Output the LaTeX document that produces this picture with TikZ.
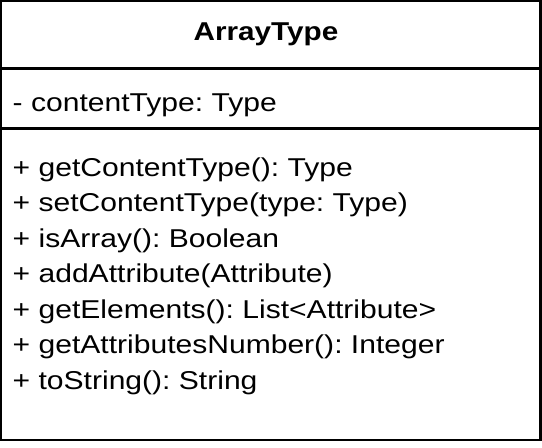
\documentclass[tikz,border=0pt]{standalone}
\usepackage{fontspec}
\setmainfont{Liberation Sans}
\begin{document}
\frenchspacing
\begin{tikzpicture}[x=1pt,y=-1pt,
  umlline/.style={line width=2.2pt},
  umltext/.style={anchor=base west,inner sep=0pt,xscale=1.165,transform shape,
    font=\fontsize{25.8}{30}\selectfont},
  umltitle/.style={anchor=base,inner sep=0pt,xscale=1.15,transform shape,
    font=\fontsize{25.8}{30}\selectfont\bfseries}]
  \useasboundingbox (0,0) rectangle (542,448);
  % class frame and compartment separators
  \draw[umlline] (1.1,1.1) rectangle (540.4,440);
  \draw[umlline] (1.1,68.5) -- (540.4,68.5);
  \draw[umlline] (1.1,128.5) -- (540.4,128.5);
  % class name
  \node[umltitle] (title) at (266,40) {ArrayType};
  % attributes
  \node[umltext] (attr) at (12.5,111.5) {- contentType: Type};
  % operations
  \node[umltext] (op1) at (12.5,176) {+ getContentType(): Type};
  \node[umltext] (op2) at (12.5,211.5) {+ setContentType(type: Type)};
  \node[umltext] (op3) at (12.5,247) {+ isArray(): Boolean};
  \node[umltext] (op4) at (12.5,282.5) {+ addAttribute(Attribute)};
  \node[umltext] (op5) at (12.5,318) {+ getElements(): List<Attribute>};
  \node[umltext] (op6) at (12.5,353.5) {+ getAttributesNumber(): Integer};
  \node[umltext] (op7) at (12.5,389) {+ toString(): String};
\end{tikzpicture}
\end{document}
